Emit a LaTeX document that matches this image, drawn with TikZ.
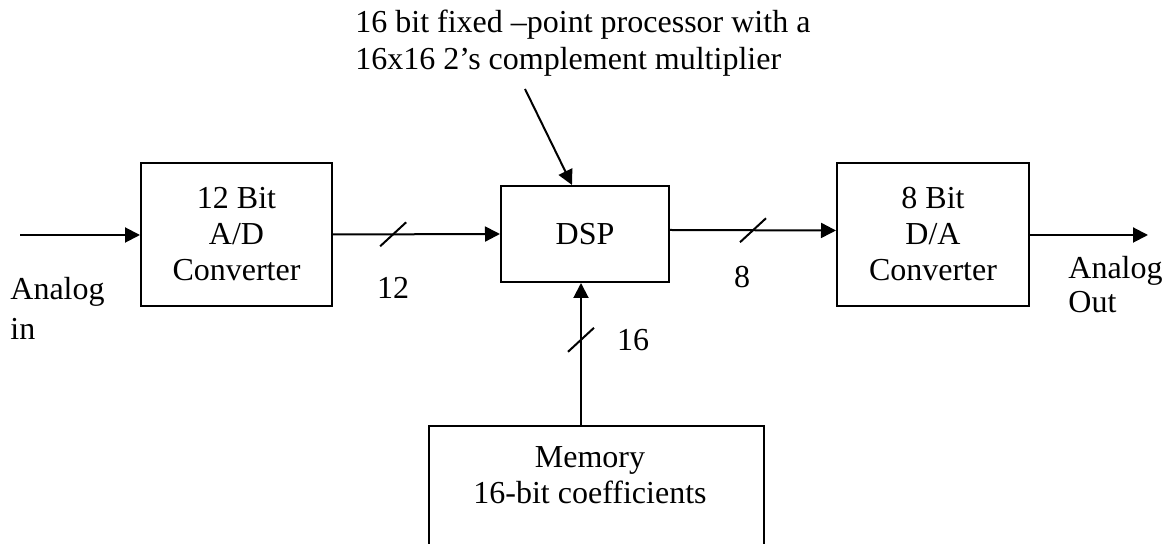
\documentclass[tikz,border=0pt]{standalone}
\usepackage{fontspec}
\setmainfont{Liberation Serif}
\usetikzlibrary{arrows.meta,calc}
\tikzset{
	blk/.style={draw, line width=1pt, align=center, inner sep=0pt},
	sig/.style={line width=1pt, -{Triangle[length=7.5pt,width=7.5pt]}},
	lbl/.style={inner sep=0pt, align=left},
	bus/.style={line width=1pt},
}
\begin{document}
\begin{tikzpicture}[x=0.5pt,y=-0.5pt,font=\fontsize{16}{18}\selectfont]
	\useasboundingbox (0,0) rectangle (1174,544);
	\clip (0,0) rectangle (1174,544);
	% blocks
	\node[blk, minimum width=95.5pt, minimum height=71.5pt] (ad) at (236.5,234.5) {12 Bit\\A/D\\Converter};
	\node[blk, minimum width=84pt, minimum height=48pt] (dsp) at (585,234) {DSP};
	\node[blk, minimum width=96pt, minimum height=71.5pt] (da) at (933,234.5) {8 Bit\\D/A\\Converter};
	\node[blk, minimum width=167.5pt, minimum height=80pt] (mem) at (596.5,506) {};
	\node[lbl, align=center] (memtxt) at (590,475) {Memory\\16-bit coefficients};
	% signals
	\coordinate (in) at (20,235);
	\coordinate (out) at (1148,235);
	\draw[sig] (in) -- (in -| ad.west);
	\draw[sig] (ad.east) -- coordinate[pos=0.36] (s12) (dsp.west);
	\draw[sig] ([yshift=2pt]dsp.east) -- coordinate[pos=0.5] (s8) ([yshift=2pt]da.west);
	\draw[sig] (da.east |- out) -- (out);
	\coordinate (mbus) at (581,0);
	\draw[sig] (mem.north -| mbus) -- coordinate[pos=0.6] (s16) (dsp.south -| mbus);
	\foreach \s in {s12,s8,s16}
	\draw[bus] ($(\s)+(-13,12)$) -- ($(\s)+(13,-12)$);
	% labels
	\node[lbl] (n12) at (393,288) {12};
	\node[lbl] (n8) at (742,277) {8};
	\node[lbl] (n16) at (633,340) {16};
	\node[lbl, anchor=west, font=\fontsize{16}{20}\selectfont] (ain) at (10,308) {Analog\\in};
	\node[lbl, anchor=west, font=\fontsize{16}{17}\selectfont] (aout) at (1068,285) {Analog\\Out};
	\node[lbl, anchor=west, font=\fontsize{16}{18.5}\selectfont] (note) at (355,43.5) {16 bit fixed –point processor with a\\16x16 2’s complement multiplier};
	\coordinate (tip) at (525,89);
	\coordinate (hit) at (572,0);
	\draw[sig] (tip) -- (dsp.north -| hit);
\end{tikzpicture}
\end{document}
